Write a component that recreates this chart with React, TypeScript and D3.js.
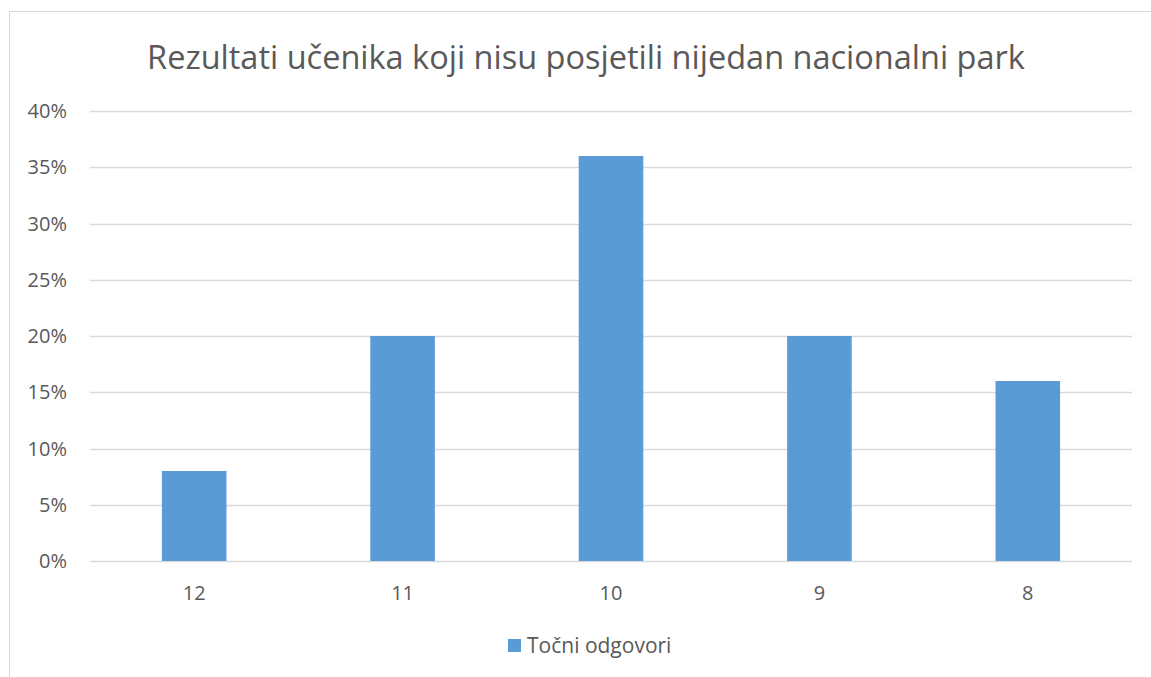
import React, { useRef, useEffect } from 'react';
import * as d3 from 'd3';

const categories = ['12', '11', '10', '9', '8'];
const values = [0.08, 0.2, 0.36, 0.2, 0.16];
const yTicks = [0, 0.05, 0.1, 0.15, 0.2, 0.25, 0.3, 0.35, 0.4];
const seriesName = 'Točni odgovori';
const title = 'Rezultati učenika koji nisu posjetili nijedan nacionalni park';

const App: React.FC = () => {
  const svgRef = useRef<SVGSVGElement | null>(null);

  useEffect(() => {
    const width = 1151;
    const height = 677;
    const font = '"Open Sans", sans-serif';
    const textColor = '#595959';

    const svg = d3.select(svgRef.current).attr('width', width).attr('height', height);
    svg.selectAll('*').remove();

    svg
      .append('rect')
      .attr('x', 9.5)
      .attr('y', 11.5)
      .attr('width', width + 10)
      .attr('height', height + 10)
      .attr('fill', '#fff')
      .attr('stroke', '#d9d9d9');

    const x = d3.scaleBand<string>().domain(categories).range([90, 1132]).paddingInner(0.69).paddingOuter(0.345);
    const y = d3.scaleLinear().domain([0, 0.4]).range([561, 111]);

    svg
      .append('g')
      .selectAll('line')
      .data(yTicks)
      .enter()
      .append('line')
      .attr('x1', 90)
      .attr('x2', 1132)
      .attr('y1', d => Math.round(y(d)) + 0.5)
      .attr('y2', d => Math.round(y(d)) + 0.5)
      .attr('stroke', '#d9d9d9')
      .attr('stroke-width', 1.5);

    svg
      .append('g')
      .selectAll('text')
      .data(yTicks)
      .enter()
      .append('text')
      .attr('x', 67)
      .attr('y', d => y(d))
      .attr('dy', '0.35em')
      .attr('text-anchor', 'end')
      .attr('font-family', font)
      .attr('font-size', 20)
      .attr('fill', textColor)
      .text(d => d3.format('.0%')(d));

    svg
      .append('g')
      .selectAll('rect')
      .data(values)
      .enter()
      .append('rect')
      .attr('x', (d, i) => x(categories[i])!)
      .attr('y', d => y(d))
      .attr('width', x.bandwidth())
      .attr('height', d => y(0) - y(d))
      .attr('fill', '#5b9bd5');

    svg
      .append('g')
      .selectAll('text')
      .data(categories)
      .enter()
      .append('text')
      .attr('x', d => x(d)! + x.bandwidth() / 2)
      .attr('y', 600)
      .attr('text-anchor', 'middle')
      .attr('font-family', font)
      .attr('font-size', 20)
      .attr('fill', textColor)
      .text(d => d);

    svg
      .append('text')
      .attr('x', 586)
      .attr('y', 69)
      .attr('text-anchor', 'middle')
      .attr('font-family', font)
      .attr('font-size', 32.5)
      .attr('fill', textColor)
      .text(title);

    svg
      .append('rect')
      .attr('x', 508)
      .attr('y', 639)
      .attr('width', 13)
      .attr('height', 13)
      .attr('fill', '#5b9bd5');

    svg
      .append('text')
      .attr('x', 527)
      .attr('y', 653)
      .attr('font-family', font)
      .attr('font-size', 21)
      .attr('fill', textColor)
      .text(seriesName);
  }, []);

  return (
    <div style={{ position: 'absolute', left: 0, top: 0 }}>
      <svg ref={svgRef}></svg>
    </div>
  );
};

export default App;
